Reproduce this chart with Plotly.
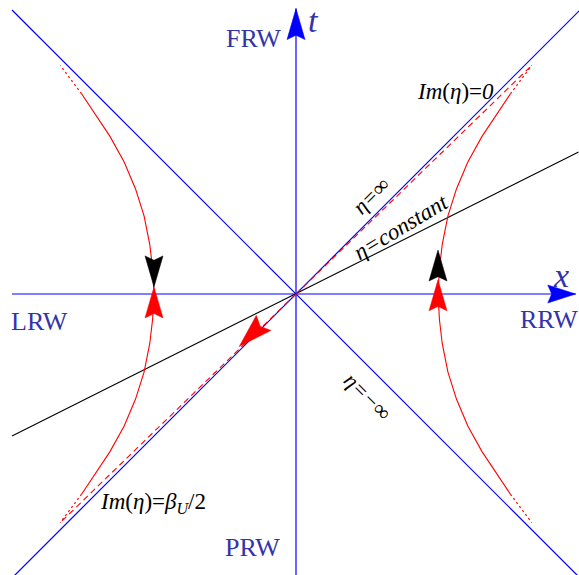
import math
import plotly.graph_objects as go

# ---------------- data (units: distance of the trajectory vertex from origin) ----------------
# one quarter of the accelerated trajectory (right wedge, t >= 0)
traj_x = [1.00, 1.01, 1.03, 1.07, 1.13, 1.21, 1.31, 1.42, 1.51]
traj_t = [0.00, 0.18, 0.35, 0.55, 0.74, 0.93, 1.11, 1.28, 1.41]
# dotted continuation of the trajectory towards the horizon
tail_x = [1.51, 1.66]
tail_t = [1.41, 1.61]
# dashed line  Im(eta) = const
asym_x = [0.0, 1.66]
asym_t = [0.0, 1.61]
# light cone (eta = +/- infinity)
cone_x = [-2.0, 2.0]
cone_t = [-2.0, 2.0]
# eta = constant line
etac_x = [-2.0, 1.99]
etac_t = [-1.0, 1.0]
# coordinate axes
xaxis_x = [-2.0, 1.97]
taxis_t = [-1.98, 2.01]
# arrowheads on the trajectories: (tip x, tip t, direction t)
traj_arrow_x = [-1.00, -1.00, 1.00, 1.00]
traj_arrow_t = [0.05, 0.05, 0.10, 0.31]
traj_arrow_dir = [-1, 1, 1, 1]
traj_arrow_col = ["black", "red", "red", "black"]
# arrow on the dashed line
dash_arrow_tip = [-0.40, -0.37]

# ---------------- geometry of the canvas ----------------
W, H = 579, 575
S = 142.0            # pixels per unit
OX, OY = 296, 294    # origin in pixels

BLUE = "#0000ff"
LBL = "#3333aa"
FONT = "Liberation Serif"

fig = go.Figure()


def line(x, y, color, width=1.2, dash=None):
    fig.add_trace(go.Scatter(x=x, y=y, mode="lines", hoverinfo="skip",
                             line=dict(color=color, width=width, dash=dash),
                             showlegend=False))


def arrow(tx, ty, dx, dy, length_px, width_px, color):
    n = math.hypot(dx, dy)
    dx, dy = dx / n, dy / n
    L = length_px / S
    w = width_px / S / 2
    bx, by = tx - L * dx, ty - L * dy
    nx, ny = -dy, dx
    notch = 0.86
    xs = [tx, bx + w * nx, tx - notch * L * dx, bx - w * nx, tx]
    ys = [ty, by + w * ny, ty - notch * L * dy, by - w * ny, ty]
    fig.add_trace(go.Scatter(x=xs, y=ys, mode="lines", fill="toself",
                             fillcolor=color, line=dict(color=color, width=0.5),
                             hoverinfo="skip", showlegend=False))


# light cone
line(cone_x, cone_t, BLUE)
line(cone_x, [-v for v in cone_t], BLUE)
# axes
line(xaxis_x, [0, 0], BLUE)
line([0, 0], taxis_t, BLUE)
# eta = constant
line(etac_x, etac_t, "black", width=1.1)

# trajectories in all four quadrants
for sx, st in [(1, 1), (1, -1), (-1, 1), (-1, -1)]:
    line([sx * v for v in traj_x], [st * v for v in traj_t], "red", width=1.1)
    line([sx * v for v in tail_x], [st * v for v in tail_t], "red", width=1.2,
         dash="2px,3px")

# dashed Im(eta) lines
for s in (1, -1):
    line([s * v for v in asym_x], [s * v for v in asym_t], "red", width=1.1,
         dash="6px,4px")

# arrowheads
arrow(xaxis_x[1], 0, 1, 0, 28, 18, BLUE)
arrow(0, taxis_t[1], 0, 1, 31, 18, BLUE)
for ax_, at_, ad, ac in zip(traj_arrow_x, traj_arrow_t, traj_arrow_dir, traj_arrow_col):
    arrow(ax_, at_, 0, ad, 31, 18, ac)
arrow(dash_arrow_tip[0], dash_arrow_tip[1], -asym_x[1], -asym_t[1], 34, 21, "red")


def label(px, py, text, size, color="black", angle=0):
    fig.add_annotation(x=px / W, y=1 - py / H, xref="paper", yref="paper",
                       text=text, showarrow=False, textangle=angle,
                       xanchor="center", yanchor="middle",
                       font=dict(family=FONT, size=size, color=color))


label(253, 38, "FRW", 26, LBL)
label(39, 321, "LRW", 26, LBL)
label(549, 319, "RRW", 26, LBL)
label(252, 547, "PRW", 26, LBL)
label(313, 21, "<i>t</i>", 34, LBL)
label(561, 275, "<i>x</i>", 34, LBL)
label(455, 91, "<i>Im</i>(<i>η</i>)=<i>0</i>", 23)
label(371, 195, "<i>η=∞</i>", 22, angle=-45)
label(400, 227, "<i>η=constant</i>", 23, angle=-31)
label(368, 396, "<i>η=−∞</i>", 22, angle=45)
label(153, 503, "<i>Im</i>(<i>η</i>)=<i>β<sub>U</sub></i>/2", 23)

fig.update_layout(
    width=W, height=H,
    margin=dict(l=0, r=0, t=0, b=0),
    paper_bgcolor="white", plot_bgcolor="white",
    xaxis=dict(range=[(0 - OX) / S, (W - OX) / S], visible=False, fixedrange=True),
    yaxis=dict(range=[(OY - H) / S, OY / S], visible=False, fixedrange=True),
)

fig.write_html("out.html", config={"displayModeBar": False},
               post_script="document.body.style.margin='0';document.body.style.overflow='hidden';")
